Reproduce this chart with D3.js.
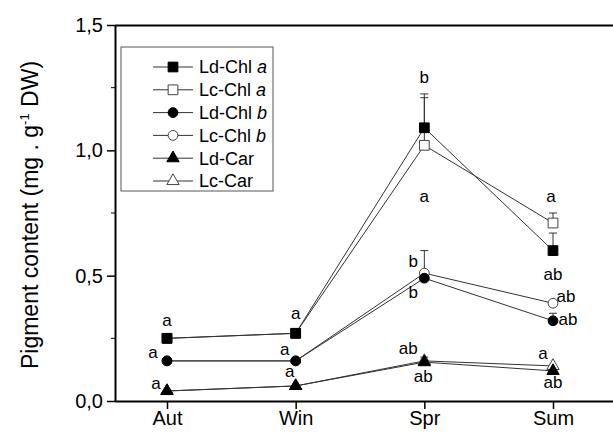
<!DOCTYPE html>
<html>
  <head>
    <meta charset="utf-8">
    <title>pigment content</title>
    <style>
      body { margin: 0; background: #fff; }
      text { font-family: Arial, "Liberation Sans", sans-serif; fill: #000; }
    </style>
  </head>
  <body>
    <script src="https://cdn.jsdelivr.net/npm/d3@7/dist/d3.min.js"></script>
    <script type="text/javascript">
      var seasons = ["Aut", "Win", "Spr", "Sum"];
      var yTicks = [0, 0.5, 1.0, 1.5];

      var ldChlA = [0.25, 0.27, 1.09, 0.60];
      var lcChlA = [0.25, 0.27, 1.02, 0.71];
      var ldChlB = [0.16, 0.16, 0.49, 0.32];
      var lcChlB = [0.16, 0.16, 0.51, 0.39];
      var ldCar  = [0.04, 0.06, 0.155, 0.12];
      var lcCar  = [0.04, 0.06, 0.16, 0.14];

      // upper error only
      var ldChlAErr = [0, 0, 0.135, 0.07];
      var lcChlAErr = [0, 0, 0.19, 0.04];
      var ldChlBErr = [0, 0, 0, 0.03];
      var lcChlBErr = [0, 0, 0.09, 0];
      var ldCarErr  = [0, 0, 0.02, 0];
      var lcCarErr  = [0, 0, 0, 0];

      // significance letters: season index, y value where the letter sits, letter
      var sigSeason = [0, 0, 0, 1, 1, 1, 2, 2, 2, 2, 2, 2, 3, 3, 3, 3, 3, 3];
      var sigValue  = [0.324, 0.196, 0.072, 0.352, 0.208, 0.12, 1.292, 0.816, 0.56, 0.436, 0.212, 0.1,
                       0.816, 0.508, 0.42, 0.328, 0.192, 0.076];
      var sigText   = ["a", "a", "a", "a", "a", "a", "b", "a", "b", "b", "ab", "ab",
                       "a", "ab", "ab", "ab", "a", "ab"];
      var sigDx     = [0, -14, -11, 0, -11, -6, 0, 0, -11, -11, -16, -1, -2, 0, 13, 15, -10, 0];

      var series = [
        {name: "Ld-Chl", ital: "a", values: ldChlA, err: ldChlAErr, shape: "square", filled: true},
        {name: "Lc-Chl", ital: "a", values: lcChlA, err: lcChlAErr, shape: "square", filled: false},
        {name: "Ld-Chl", ital: "b", values: ldChlB, err: ldChlBErr, shape: "circle", filled: true},
        {name: "Lc-Chl", ital: "b", values: lcChlB, err: lcChlBErr, shape: "circle", filled: false},
        {name: "Ld-Car", ital: "", values: ldCar, err: ldCarErr, shape: "triangle", filled: true},
        {name: "Lc-Car", ital: "", values: lcCar, err: lcCarErr, shape: "triangle", filled: false}
      ];

      var width = 613, height = 433;
      var plotLeft = 115, plotTop = 25, plotBottom = 401;

      var svg = d3.select("body").append("svg")
                  .attr("width", width)
                  .attr("height", height);

      var x = d3.scaleLinear().domain([0, 3]).range([167, 553]);
      var y = d3.scaleLinear().domain([0, 1.5]).range([plotBottom, plotTop]);

      function symbolPath(shape) {
        if (shape == "square") return d3.symbol(d3.symbolSquare, 95)();
        if (shape == "circle") return d3.symbol(d3.symbolCircle, 75)();
        return d3.symbol(d3.symbolTriangle, 66)();
      }

      // frame: top line (right side is cut off)
      svg.append("line")
         .attr("x1", plotLeft).attr("x2", width)
         .attr("y1", plotTop + 0.5).attr("y2", plotTop + 0.5)
         .attr("stroke", "#000").attr("stroke-width", 2);

      // y axis
      var yAxis = svg.append("g")
         .attr("transform", "translate(" + plotLeft + ",0)")
         .call(d3.axisLeft(y).tickValues(yTicks).tickSize(8).tickPadding(4)
                 .tickFormat(function(d) { return d3.format(".1f")(d).replace(".", ","); }));
      yAxis.append("g").selectAll("line")
         .data([0.25, 0.75, 1.25])
         .enter().append("line")
         .attr("x1", -4).attr("x2", 0)
         .attr("y1", function(d) { return y(d); }).attr("y2", function(d) { return y(d); })
         .attr("stroke", "#000");

      // x axis
      var xAxis = svg.append("g")
         .attr("transform", "translate(0," + plotBottom + ")")
         .call(d3.axisBottom(x).tickValues([0, 1, 2, 3]).tickSize(8).tickPadding(2)
                 .tickFormat(function(d) { return seasons[d]; }));
      xAxis.select(".domain").attr("d", "M" + plotLeft + ",0.5H" + width);

      [yAxis, xAxis].forEach(function(a) {
        a.selectAll(".domain").attr("stroke", "#000").attr("stroke-width", 2);
        a.selectAll(".tick line").attr("stroke", "#000").attr("stroke-width", 1.5);
        a.selectAll(".tick text").style("font-size", "20px").style("font-family", "Arial, 'Liberation Sans', sans-serif");
      });
      yAxis.select(".domain").attr("d", "M0.5," + (plotBottom + 1) + "V" + plotTop);

      // y title
      var title = svg.append("text")
         .attr("transform", "translate(38," + ((plotTop + plotBottom) / 2 + 2) + ") rotate(-90)")
         .attr("text-anchor", "middle")
         .style("font-size", "23px");
      title.append("tspan").text("Pigment content (mg . g");
      title.append("tspan").attr("dy", -9).style("font-size", "13px").text("-1");
      title.append("tspan").attr("dy", 9).text(" DW)");

      var line = d3.line()
                   .x(function(d, i) { return x(i); })
                   .y(function(d) { return y(d); });

      // error bars
      series.forEach(function(s) {
        var g = svg.append("g");
        s.err.forEach(function(e, i) {
          if (e <= 0) return;
          g.append("line")
           .attr("x1", x(i)).attr("x2", x(i))
           .attr("y1", y(s.values[i])).attr("y2", y(s.values[i] + e))
           .attr("stroke", "#333").attr("stroke-width", 1);
          g.append("line")
           .attr("x1", x(i) - 4).attr("x2", x(i) + 4)
           .attr("y1", y(s.values[i] + e)).attr("y2", y(s.values[i] + e))
           .attr("stroke", "#333").attr("stroke-width", 1);
        });
      });

      // lines
      series.forEach(function(s) {
        svg.append("path")
           .attr("d", line(s.values))
           .attr("fill", "none")
           .attr("stroke", "#333")
           .attr("stroke-width", 1);
      });

      // markers: open ones first, filled ones on top
      series.filter(function(s) { return !s.filled; })
            .concat(series.filter(function(s) { return s.filled; }))
            .forEach(function(s) {
        svg.append("g").selectAll("path")
           .data(s.values)
           .enter().append("path")
           .attr("d", symbolPath(s.shape))
           .attr("transform", function(d, i) { return "translate(" + x(i) + "," + y(d) + ")"; })
           .attr("fill", s.filled ? "#000" : "#fff")
           .attr("stroke", s.filled ? "#000" : "#444")
           .attr("stroke-width", 1);
      });

      // significance letters
      svg.append("g").selectAll("text")
         .data(sigText)
         .enter().append("text")
         .attr("x", function(d, i) { return x(sigSeason[i]) + sigDx[i]; })
         .attr("y", function(d, i) { return y(sigValue[i]); })
         .attr("dy", "0.35em")
         .attr("text-anchor", "middle")
         .style("font-size", "17px")
         .text(function(d) { return d; });

      // legend
      var lg = svg.append("g").attr("transform", "translate(121,47)");
      lg.append("rect")
        .attr("width", 152).attr("height", 144)
        .attr("fill", "#fff").attr("stroke", "#555").attr("stroke-width", 1);
      series.forEach(function(s, i) {
        var ry = 20 + i * 22.8;
        lg.append("line")
          .attr("x1", 32).attr("x2", 72).attr("y1", ry).attr("y2", ry)
          .attr("stroke", "#333");
        lg.append("path")
          .attr("d", symbolPath(s.shape))
          .attr("transform", "translate(52," + ry + ")")
          .attr("fill", s.filled ? "#000" : "#fff")
          .attr("stroke", s.filled ? "#000" : "#444");
        var t = lg.append("text")
          .attr("x", 78).attr("y", ry).attr("dy", "0.36em")
          .style("font-size", "18px");
        t.append("tspan").text(s.name + (s.ital ? " " : ""));
        if (s.ital) t.append("tspan").style("font-style", "italic").text(s.ital);
      });
    </script>
  </body>
</html>
